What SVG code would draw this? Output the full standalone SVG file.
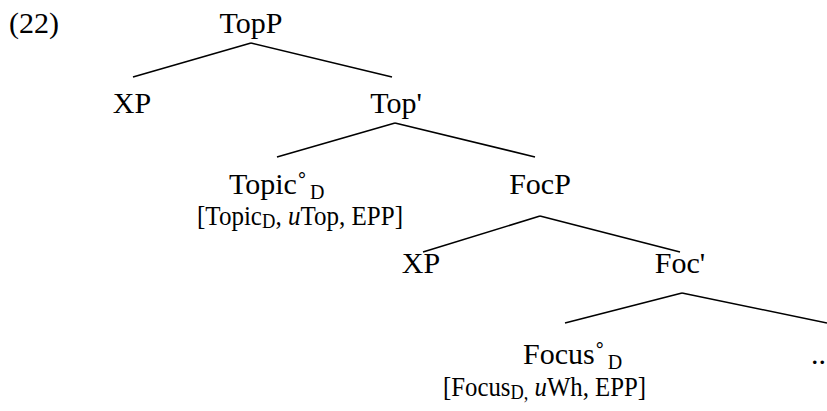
<svg xmlns="http://www.w3.org/2000/svg" width="827" height="411" viewBox="0 0 827 411">
<style>
text{font-family:'Liberation Serif','DejaVu Serif',serif;font-size:30px;fill:#000}
.n{text-anchor:middle}
.sub{font-size:20px}
.br{font-size:27px}
line{stroke:#000;stroke-width:1.6}
</style>
<rect width="827" height="411" fill="#fff"/>
<text x="9" y="33">(22)</text>
<g id="edges">
<line x1="251" y1="43" x2="133" y2="77"/>
<line x1="251" y1="43" x2="392" y2="77"/>
<line x1="395" y1="123" x2="277" y2="157"/>
<line x1="395" y1="123" x2="535" y2="157"/>
<line x1="540" y1="216" x2="423" y2="252"/>
<line x1="540" y1="216" x2="680" y2="252"/>
<line x1="682" y1="293" x2="565" y2="323"/>
<line x1="682" y1="293" x2="827" y2="323"/>
</g>
<g id="TopP"><text class="n" x="251" y="33">TopP</text></g>
<g id="XP1"><text class="n" x="132" y="113">XP</text></g>
<g id="TopBar"><text class="n" x="396" y="113">Top'</text></g>
<g id="TopicHead">
<text x="229" y="194">Topic˚<tspan class="sub" dx="3" dy="5">D</tspan></text>
<text class="br" x="197" y="225" textLength="206" lengthAdjust="spacingAndGlyphs">[Topic<tspan class="sub" dy="3">D</tspan><tspan dy="-3">, </tspan><tspan font-style="italic">u</tspan>Top, EPP]</text>
</g>
<g id="FocP"><text class="n" x="540" y="194">FocP</text></g>
<g id="XP2"><text class="n" x="421" y="273">XP</text></g>
<g id="FocBar"><text class="n" x="680" y="273">Foc'</text></g>
<g id="FocusHead">
<text x="523" y="364">Focus˚<tspan class="sub" dx="3" dy="5">D</tspan></text>
<text class="br" x="443" y="396" textLength="203" lengthAdjust="spacingAndGlyphs">[Focus<tspan class="sub" dy="3">D,</tspan><tspan dy="-3"> </tspan><tspan font-style="italic">u</tspan>Wh, EPP]</text>
</g>
<g id="Rest"><text x="811" y="364">..</text></g>
</svg>
